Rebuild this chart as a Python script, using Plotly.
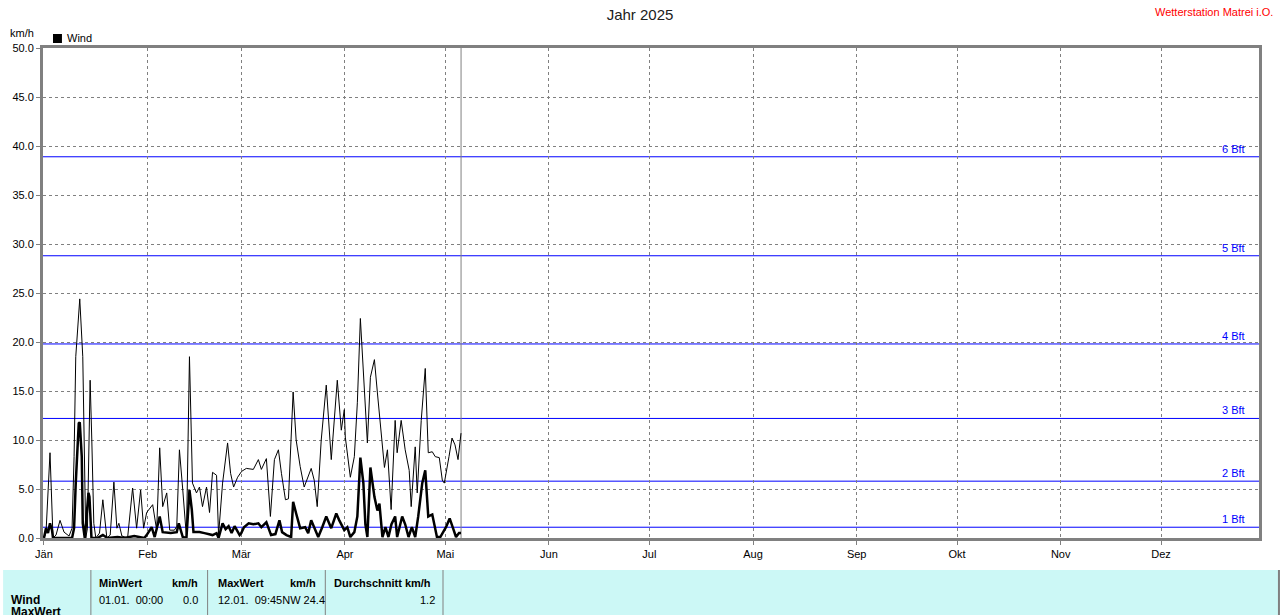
import pandas as pd
import plotly.graph_objects as go

# ---------------- data ----------------
year_start = "2025-01-01"
month_labels = ["Jän", "Feb", "Mär", "Apr", "Mai", "Jun", "Jul", "Aug", "Sep", "Okt", "Nov", "Dez"]
y_ticks = [0, 5, 10, 15, 20, 25, 30, 35, 40, 45, 50]

bft_labels = ["1 Bft", "2 Bft", "3 Bft", "4 Bft", "5 Bft", "6 Bft"]
bft_kmh = [1.1, 5.8, 12.2, 19.8, 28.8, 38.9]

# Wind max (thin line): days since 1 Jan, km/h
max_days = [0.0, 0.6, 1.8, 2.7, 3.6, 4.8, 6.0, 7.5, 8.4, 9.0, 9.5, 10.7, 11.6, 12.1, 12.5, 13.0,
            13.8, 14.3, 14.9, 15.5, 16.6, 17.6, 18.3, 18.8, 19.8, 20.9, 21.8, 22.4, 23.3, 25.0,
            26.5, 27.7, 28.9, 29.8, 30.7, 32.5, 33.7, 34.6, 35.5, 36.7, 37.6, 39.0, 39.7, 40.5,
            41.5, 42.6, 43.5, 44.4, 45.6, 46.5, 47.4, 48.6, 49.5, 50.4, 51.6, 52.2, 53.4, 54.9,
            55.8, 56.7, 57.9, 59.1, 60.5, 62.6, 64.1, 65.0, 66.5, 67.7, 68.9, 70.1, 71.0, 72.2,
            73.1, 74.5, 75.4, 76.6, 77.8, 78.4, 79.9, 80.8, 81.7, 82.9, 84.4, 85.9, 87.1, 87.7,
            88.9, 89.8, 90.1, 91.3, 91.6, 92.8, 93.7, 94.6, 95.8, 96.7, 97.6, 98.8, 99.7, 100.6,
            101.8, 102.7, 103.8, 105.0, 105.6, 106.8, 108.0, 109.2, 109.8, 111.0, 111.6, 112.8,
            114.0, 114.9, 116.1, 117.0, 118.2, 119.1, 119.7, 121.1, 122.0, 122.9, 123.8, 124.7]
max_kmh = [0.0, 0.5, 8.7, 0.0, 0.3, 1.8, 0.6, 0.2, 1.0, 8.3, 18.5, 24.4, 18.5, 4.9, 0.0, 1.0,
           16.1, 10.0, 1.5, 0.0, 0.5, 3.9, 1.5, 0.0, 0.3, 5.7, 1.0, 1.5, 0.2, 0.0,
           5.1, 1.0, 4.9, 1.0, 2.6, 3.4, 0.8, 9.2, 3.2, 4.6, 0.8, 0.8, 1.2, 9.0,
           4.9, 0.1, 18.5, 5.6, 4.6, 5.2, 3.2, 5.2, 2.6, 6.7, 6.4, 0.3, 5.6, 9.7,
           6.6, 5.2, 6.2, 6.8, 7.1, 7.0, 8.0, 7.0, 8.1, 2.2, 8.0, 9.0, 6.6, 3.9,
           4.0, 14.9, 10.0, 7.3, 5.2, 5.8, 7.1, 5.9, 3.2, 10.0, 15.6, 8.0, 14.1, 16.1,
           11.0, 13.1, 10.3, 6.6, 6.2, 8.3, 13.8, 22.4, 15.8, 9.7, 16.4, 18.2, 14.8, 11.3,
           7.2, 9.0, 2.9, 12.0, 8.7, 12.0, 9.0, 6.9, 3.2, 9.3, 4.6, 12.0,
           17.3, 8.7, 8.8, 8.3, 8.2, 5.9, 5.6, 8.3, 10.2, 9.5, 8.0, 10.7]

# Wind average (thick line)
avg_days = [0.0, 0.6, 1.2, 1.8, 2.4, 2.7, 8.4, 9.0, 9.5, 10.4, 10.7, 11.3, 11.6, 12.2, 13.3, 13.6,
            14.2, 16.0, 17.6, 19.0, 22.0, 24.0, 27.0, 30.0, 30.7, 32.2, 33.1, 34.6, 35.5, 37.9,
            39.7, 40.3, 41.5, 42.6, 43.5, 44.2, 44.7, 46.5, 48.0, 50.4, 51.6, 52.2, 53.4, 54.3,
            55.2, 56.1, 57.0, 58.5, 59.0, 59.8, 61.2, 62.6, 64.1, 65.0, 66.5, 67.9, 69.2, 70.4,
            71.2, 72.5, 73.9, 74.5, 75.4, 76.6, 78.1, 79.0, 79.9, 81.1, 82.0, 83.2, 84.4, 85.9,
            87.4, 88.3, 89.8, 90.7, 91.6, 92.8, 93.7, 94.6, 95.5, 96.1, 96.7, 97.6, 98.8, 99.7,
            100.3, 101.2, 102.1, 103.0, 103.9, 105.0, 105.6, 107.1, 108.0, 109.0, 110.0, 111.0,
            111.9, 113.1, 114.0, 114.9, 116.1, 117.5, 118.5, 120.2, 121.3, 122.3, 123.2, 124.1, 124.7]
avg_kmh = [0.0, 1.0, 0.5, 1.5, 0.8, 0.0, 0.0, 1.0, 5.6, 11.7, 11.8, 8.3, 1.5, 0.0, 4.6, 4.2,
           0.0, 0.0, 0.3, 0.0, 0.1, 0.0, 0.2, 0.0, 0.3, 1.1, 0.1, 2.2, 0.6, 0.5,
           0.6, 1.5, 0.1, 0.0, 4.9, 2.9, 0.6, 0.6, 0.5, 0.3, 0.5, 0.0, 1.5, 0.9,
           1.2, 0.5, 1.2, 0.3, 0.5, 1.1, 1.5, 1.4, 1.5, 1.1, 1.6, 0.3, 0.4, 1.8,
           0.6, 0.3, 0.1, 3.7, 2.5, 1.0, 1.1, 0.5, 1.8, 0.8, 0.1, 1.1, 2.2, 1.0,
           2.5, 1.8, 0.8, 1.1, 0.1, 0.6, 2.2, 8.2, 5.6, 1.4, 0.1, 7.2, 4.2, 2.8,
           3.5, 0.1, 1.1, 0.1, 1.4, 2.2, 0.1, 2.2, 1.4, 0.1, 1.1, 0.1,
           2.2, 5.6, 6.9, 2.2, 2.4, 0.1, 0.1, 1.1, 2.0, 1.0, 0.1, 0.5, 0.5]

today = "2025-05-05 17:00"
x_range = ["2024-12-31 17:00", "2025-12-30 07:00"]

table_headers = ["MinWert", "MaxWert", "Durchschnitt km/h"]
table_units = ["km/h", "km/h", ""]
table_when = ["01.01.  00:00", "12.01.  09:45NW 24.4", ""]
table_vals = ["0.0", "", "1.2"]

# ---------------- figure ----------------
W, H = 1280, 615
ML, MR, MT, MB = 40, 21, 48, 77
PW, PH = W - ML - MR, H - MT - MB


def px(x):
    return (x - ML) / PW


def py(y):
    return (H - MB - y) / PH


start = pd.Timestamp(year_start)
max_x = start + pd.to_timedelta(max_days, unit="D")
avg_x = start + pd.to_timedelta(avg_days, unit="D")
month_starts = pd.date_range(year_start, periods=12, freq="MS")

FONT = "Liberation Sans, Arial, sans-serif"
GRAY = "#808080"

fig = go.Figure()
fig.add_trace(go.Scatter(x=max_x, y=max_kmh, mode="lines",
                         line=dict(color="black", width=1), showlegend=False, hoverinfo="skip"))
fig.add_trace(go.Scatter(x=avg_x, y=avg_kmh, mode="lines",
                         line=dict(color="black", width=2.5), showlegend=False, hoverinfo="skip"))

shapes = []
annotations = []

# Beaufort lines + labels
for lab, v in zip(bft_labels, bft_kmh):
    shapes.append(dict(type="line", xref="paper", x0=0, x1=1, yref="y", y0=v, y1=v,
                       line=dict(color="#0000ff", width=1), layer="between"))
    annotations.append(dict(text=lab, xref="paper", x=px(1247), yref="y", y=v,
                            xanchor="right", yanchor="bottom", yshift=0, showarrow=False,
                            font=dict(family=FONT, size=11, color="#0000ff")))

# today marker
shapes.append(dict(type="line", xref="x", x0=today, x1=today, yref="paper", y0=0, y1=1,
                   line=dict(color=GRAY, width=1), layer="between"))

# legend
shapes.append(dict(type="rect", xref="paper", yref="paper", x0=px(50), x1=px(59),
                   y0=py(43), y1=py(34), fillcolor="black", line=dict(width=0)))
annotations.append(dict(text="Wind", xref="paper", yref="paper", x=px(62), y=py(38),
                        xanchor="left", yanchor="middle", showarrow=False,
                        font=dict(family=FONT, size=11, color="black")))
annotations.append(dict(text="km/h", xref="paper", yref="paper", x=px(5), y=py(33),
                        xanchor="left", yanchor="middle", showarrow=False,
                        font=dict(family=FONT, size=11, color="black")))
annotations.append(dict(text="Wetterstation Matrei i.O.", xref="paper", yref="paper", x=px(1275), y=py(12),
                        xanchor="right", yanchor="middle", showarrow=False,
                        font=dict(family=FONT, size=11, color="#ff0000")))

# bottom table
shapes.append(dict(type="rect", xref="paper", yref="paper", x0=px(0), x1=px(1280),
                   y0=py(615), y1=py(570), fillcolor="#ccf8f6", line=dict(width=0), layer="below"))
for sx in [88, 205, 323, 441]:
    shapes.append(dict(type="line", xref="paper", yref="paper", x0=px(sx), x1=px(sx),
                       y0=py(615), y1=py(570), line=dict(color=GRAY, width=1)))
shapes.append(dict(type="line", xref="paper", yref="paper", x0=px(1279), x1=px(1279),
                   y0=py(615), y1=py(570), line=dict(color=GRAY, width=2)))

col_left = [94, 213, 330]
col_right = [197, 316, 435]
for i in range(3):
    annotations.append(dict(text="<b>" + table_headers[i] + "</b>", xref="paper", yref="paper",
                            x=px(col_left[i]), y=py(583), xanchor="left", yanchor="middle",
                            showarrow=False, font=dict(family=FONT, size=11, color="black")))
    if table_units[i]:
        annotations.append(dict(text="<b>" + table_units[i] + "</b>", xref="paper", yref="paper",
                                x=px(col_right[i]), y=py(583), xanchor="right", yanchor="middle",
                                showarrow=False, font=dict(family=FONT, size=11, color="black")))
    if table_when[i]:
        annotations.append(dict(text=table_when[i], xref="paper", yref="paper",
                                x=px(col_left[i]), y=py(600), xanchor="left", yanchor="middle",
                                showarrow=False, font=dict(family=FONT, size=11, color="black")))
    if table_vals[i]:
        annotations.append(dict(text=table_vals[i], xref="paper", yref="paper",
                                x=px(col_right[i]), y=py(600), xanchor="right", yanchor="middle",
                                showarrow=False, font=dict(family=FONT, size=11, color="black")))
annotations.append(dict(text="<b>Wind</b>", xref="paper", yref="paper", x=px(6), y=py(600),
                        xanchor="left", yanchor="middle", showarrow=False,
                        font=dict(family=FONT, size=12, color="black")))
annotations.append(dict(text="<b>MaxWert</b>", xref="paper", yref="paper", x=px(6), y=py(612),
                        xanchor="left", yanchor="middle", showarrow=False,
                        font=dict(family=FONT, size=12, color="black")))

fig.update_layout(
    width=W, height=H,
    margin=dict(l=ML, r=MR, t=MT, b=MB),
    paper_bgcolor="white", plot_bgcolor="white",
    title=dict(text="Jahr 2025", x=0.5, xref="container", xanchor="center",
               y=1 - 15 / H, yref="container", yanchor="middle",
               font=dict(family=FONT, size=15, color="#202020")),
    font=dict(family=FONT, size=11, color="black"),
    shapes=shapes, annotations=annotations,
    xaxis=dict(type="date", range=x_range, tickvals=month_starts, ticktext=month_labels,
               showgrid=True, gridcolor=GRAY, griddash="3px,3px", gridwidth=1,
               showline=True, linecolor=GRAY, linewidth=3, mirror=True,
               ticks="outside", ticklen=4, tickcolor=GRAY, zeroline=False,
               tickfont=dict(family=FONT, size=11, color="black")),
    yaxis=dict(range=[0, 50], tickvals=y_ticks, tickformat=".1f",
               showgrid=True, gridcolor=GRAY, griddash="3px,3px", gridwidth=1,
               showline=True, linecolor=GRAY, linewidth=3, mirror=True,
               ticks="outside", ticklen=4, tickcolor=GRAY, zeroline=False,
               tickfont=dict(family=FONT, size=11, color="black")),
)

fig.write_html("out.html", config={"displayModeBar": False},
               post_script="document.body.style.margin='0';document.body.style.overflow='hidden';")
